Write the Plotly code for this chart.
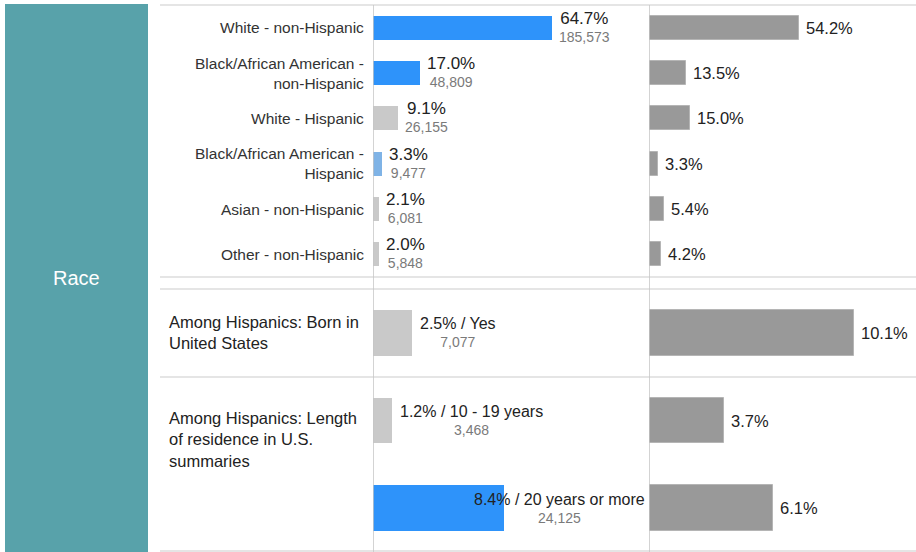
import plotly.graph_objects as go

# ---------------- data ----------------
race_labels = ["White - non-Hispanic", "Black/African American -<br>non-Hispanic", "White - Hispanic",
               "Black/African American -<br>Hispanic", "Asian - non-Hispanic", "Other - non-Hispanic"]
race_pct = [64.7, 17.0, 9.1, 3.3, 2.1, 2.0]
race_count = [185573, 48809, 26155, 9477, 6081, 5848]
race_bench = [54.2, 13.5, 15.0, 3.3, 5.4, 4.2]

hisp_items = ["Yes", "10 - 19 years", "20 years or more"]
hisp_pct = [2.5, 1.2, 8.4]
hisp_count = [7077, 3468, 24125]
hisp_bench = [10.1, 3.7, 6.1]
hisp_groups = ["Among Hispanics: Born in<br>United States",
               "Among Hispanics: Length<br>of residence in U.S.<br>summaries"]
hisp_group_first = ["Yes", "10 - 19 years"]

section_title = "Race"

# ---------------- styles ----------------
BLUE = "#2e93fa"
LBLUE = "#7fb3e6"
LGRAY = "#c9c9c9"
DGRAY = "#999999"
TEAL = "#58a2aa"
race_colors = [BLUE, BLUE, LGRAY, LBLUE, LGRAY, LGRAY]
hisp_colors = [LGRAY, LGRAY, BLUE]
FONT = "Liberation Sans, Arial, sans-serif"

W, H = 916, 552
px = lambda v: v / W
py = lambda v: 1 - v / H

L_RANGE1, R_RANGE1 = 100.0, 96.7
L_RANGE2, R_RANGE2 = 17.7, 13.15

fig = go.Figure()

fig.add_trace(go.Bar(x=race_pct, y=race_labels, orientation="h", marker=dict(color=race_colors, line=dict(width=0)),
                     width=0.53, xaxis="x", yaxis="y", hoverinfo="skip"))
fig.add_trace(go.Bar(x=race_bench, y=race_labels, orientation="h",
                     marker=dict(color=DGRAY, line=dict(color="#b5b5b5", width=1)),
                     width=0.53, xaxis="x2", yaxis="y2", hoverinfo="skip"))
fig.add_trace(go.Bar(x=hisp_pct, y=hisp_items, orientation="h", marker=dict(color=hisp_colors, line=dict(width=0)),
                     width=0.52, xaxis="x3", yaxis="y3", hoverinfo="skip"))
fig.add_trace(go.Bar(x=hisp_bench, y=hisp_items, orientation="h",
                     marker=dict(color=DGRAY, line=dict(color="#b5b5b5", width=1)),
                     width=0.52, xaxis="x4", yaxis="y4", hoverinfo="skip"))

ax = dict(showgrid=False, zeroline=False, showticklabels=False, showline=False, fixedrange=True, ticks="")
y1dom = [py(277), py(5)]
y2dom = [0, py(289)]
fig.update_layout(
    xaxis=dict(ax, domain=[px(373), px(649)], range=[0, L_RANGE1], anchor="y"),
    yaxis=dict(ax, domain=y1dom, autorange="reversed", anchor="x", type="category"),
    xaxis2=dict(ax, domain=[px(649), 1], range=[0, R_RANGE1], anchor="y2"),
    yaxis2=dict(ax, domain=y1dom, autorange="reversed", anchor="x2", type="category"),
    xaxis3=dict(ax, domain=[px(373), px(649)], range=[0, L_RANGE2], anchor="y3"),
    yaxis3=dict(ax, domain=y2dom, autorange="reversed", anchor="x3", type="category"),
    xaxis4=dict(ax, domain=[px(649), 1], range=[0, R_RANGE2], anchor="y4"),
    yaxis4=dict(ax, domain=y2dom, autorange="reversed", anchor="x4", type="category"),
)

ann = []
# teal title
ann.append(dict(x=px(76.5), y=py(278), xref="paper", yref="paper", text=section_title, showarrow=False,
                font=dict(family=FONT, size=20, color="white"), xanchor="center", yanchor="middle"))

# race category labels
for lab in race_labels:
    ann.append(dict(x=px(366), y=lab, xref="paper", yref="y", text=lab, showarrow=False, align="right",
                    xanchor="right", yanchor="middle", font=dict(family=FONT, size=15.5, color="#333333")))

def two_line(pct_text, count, size_pct):
    return (f"<span style='font-size:{size_pct}px;color:#222222'>{pct_text}</span><br>"
            f"<span style='font-size:14px;color:#7a7a7a'>{count:,}</span>")

for lab, v, c in zip(race_labels, race_pct, race_count):
    ann.append(dict(x=v, y=lab, xref="x", yref="y", text=two_line(f"{v:.1f}%", c, 17), showarrow=False,
                    align="center", xanchor="left", yanchor="middle", xshift=5, yshift=1,
                    font=dict(family=FONT, size=14)))
for lab, v in zip(race_labels, race_bench):
    ann.append(dict(x=v, y=lab, xref="x2", yref="y2", text=f"{v:.1f}%", showarrow=False,
                    xanchor="left", yanchor="middle", xshift=5,
                    font=dict(family=FONT, size=16.5, color="#222222")))

# hispanic group labels
shifts = [0, -19]
for g, first, s in zip(hisp_groups, hisp_group_first, shifts):
    ann.append(dict(x=px(167), y=first, xref="paper", yref="y3", text=g, showarrow=False, align="left",
                    xanchor="left", yanchor="middle", yshift=s,
                    font=dict(family=FONT, size=16.5, color="#222222")))

for it, v, c in zip(hisp_items, hisp_pct, hisp_count):
    label = f"{v:.1f}% / {it}"
    est_w = len(label) * 0.52 * 16
    bar_px = v / L_RANGE2 * 276
    if bar_px + 6 + est_w > 274:
        a = dict(x=L_RANGE2, xanchor="right", xshift=-2)
    else:
        a = dict(x=v, xanchor="left", xshift=6)
    ann.append(dict(a, y=it, xref="x3", yref="y3", text=two_line(label, c, 16), showarrow=False,
                    align="center", yanchor="middle", font=dict(family=FONT, size=14)))
for it, v in zip(hisp_items, hisp_bench):
    ann.append(dict(x=v, y=it, xref="x4", yref="y4", text=f"{v:.1f}%", showarrow=False,
                    xanchor="left", yanchor="middle", xshift=5,
                    font=dict(family=FONT, size=16.5, color="#222222")))

shapes = []
shapes.append(dict(type="rect", xref="paper", yref="paper", x0=px(5), x1=px(148), y0=0, y1=py(4),
                   fillcolor=TEAL, line=dict(width=0), layer="below"))
for yy in [5, 277, 289, 377, 551]:
    shapes.append(dict(type="line", xref="paper", yref="paper", x0=px(160), x1=1, y0=py(yy), y1=py(yy),
                       line=dict(color="#dddddd", width=1.5)))
for xa in ["x", "x2"]:
    shapes.append(dict(type="line", xref=xa, yref="paper", x0=0, x1=0, y0=0, y1=py(5),
                       line=dict(color="#c4c4c4", width=1.5)))

fig.update_layout(width=W, height=H, margin=dict(l=0, r=0, t=0, b=0), showlegend=False,
                  paper_bgcolor="white", plot_bgcolor="white", bargap=0,
                  annotations=ann, shapes=shapes, font=dict(family=FONT))

fig.write_html("out.html", config={"displayModeBar": False})
